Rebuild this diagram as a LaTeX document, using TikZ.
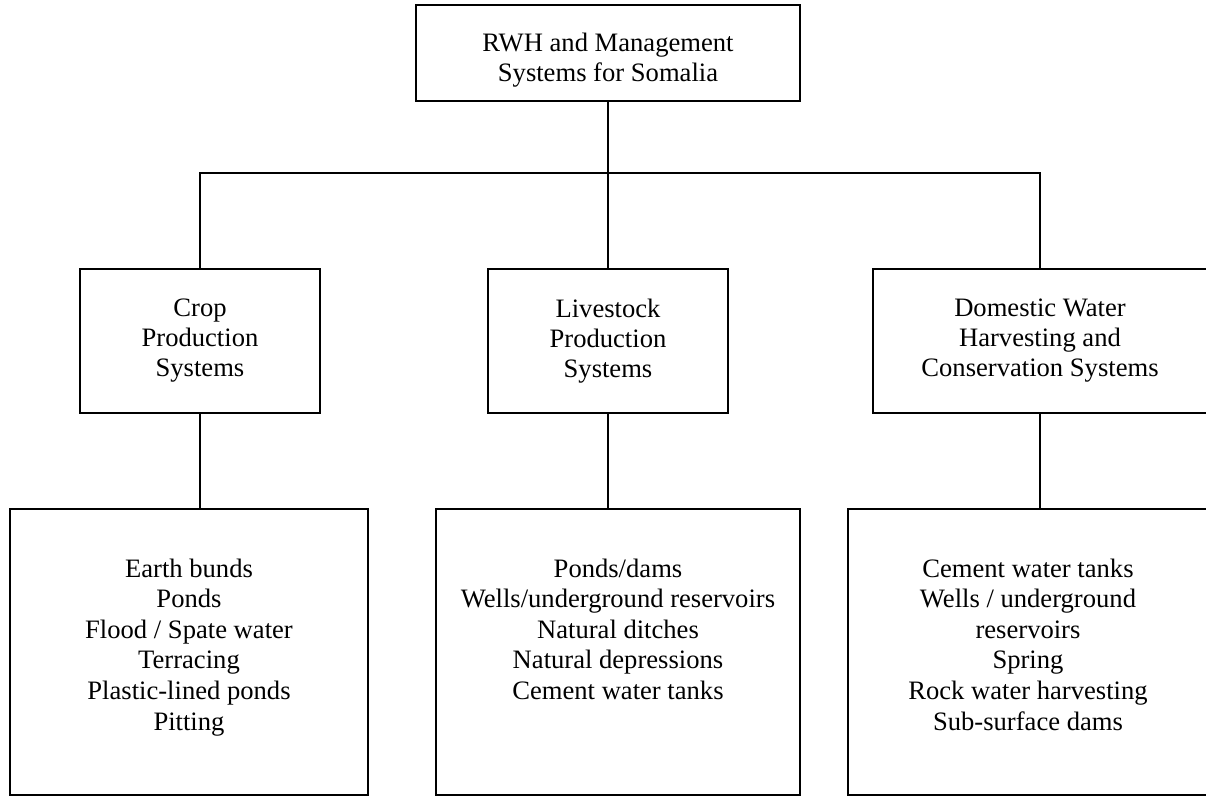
\documentclass[tikz,border=0pt]{standalone}
\usepackage{fontspec}
\setmainfont{Liberation Serif}
\usetikzlibrary{positioning,calc}

\begin{document}
\begin{tikzpicture}[x=0.5pt,y=-0.5pt,
    box/.style={draw,line width=0.7pt,align=center,inner sep=0pt,font=\fontsize{13.3}{15}\selectfont},
    items/.style={align=center,inner sep=0pt,font=\fontsize{13.3}{15.3}\selectfont},
    link/.style={line width=0.7pt}]
  \useasboundingbox (0,0) rectangle (1206,797);
  % ---- top
  \node[box,minimum width=192pt,minimum height=48pt] (rwh) at (608,53) {};
  \node[items,below=14pt of rwh.north] (rwhtext) {RWH and Management\\Systems for Somalia};
  \coordinate (bus) at (608,173);
  % ---- the three systems
  \node[box,minimum width=120pt,minimum height=72pt] (crop) at (200,341)
       {Crop\\Production\\Systems};
  \node[box,minimum width=120pt,minimum height=72pt] (stock) at (608,341)
       {Livestock\\Production\\Systems};
  \node[box,minimum width=167pt,minimum height=72pt] (domestic) at (1040,341)
       {Domestic Water\\Harvesting and\\Conservation Systems};
  % ---- what each one uses
  \node[box,minimum width=179pt,minimum height=143pt] (cropbox) at (189,652) {};
  \node[box,minimum width=182pt,minimum height=143pt] (stockbox) at (618,652) {};
  \node[box,minimum width=180pt,minimum height=143pt] (domesticbox) at (1028,652) {};
  \node[items,below=25pt of cropbox.north] (croplist)
       {Earth bunds\\Ponds\\Flood / Spate water\\Terracing\\Plastic-lined ponds\\Pitting};
  \node[items,below=25pt of stockbox.north] (stocklist)
       {Ponds/dams\\Wells/underground reservoirs\\Natural ditches\\Natural depressions\\Cement water tanks};
  \node[items,below=25pt of domesticbox.north] (domesticlist)
       {Cement water tanks\\Wells / underground\\reservoirs\\Spring\\Rock water harvesting\\Sub-surface dams};
  % ---- connectors
  \draw[link] (rwh.south) -- (stock.north);
  \draw[link] (crop.north) |- (bus) -| (domestic.north);
  \draw[link] (crop.south) -- (crop.south |- cropbox.north);
  \draw[link] (stock.south) -- (stock.south |- stockbox.north);
  \draw[link] (domestic.south) -- (domestic.south |- domesticbox.north);
\end{tikzpicture}
\end{document}
